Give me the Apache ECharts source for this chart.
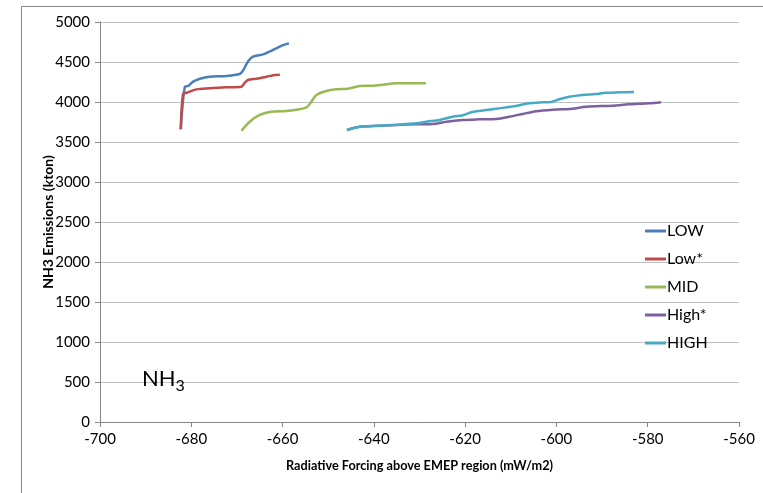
<!DOCTYPE html>
<html>
<head>
<meta charset="utf-8">
<script src="https://cdn.jsdelivr.net/npm/echarts@6/dist/echarts.min.js"></script>
<style>
  html, body { margin: 0; padding: 0; background: #fff; }
  #chart { width: 763px; height: 493px; }
</style>
</head>
<body>
<div id="chart"></div>
<script>
// NH3 emissions vs radiative forcing, one path per scenario: [forcing (mW/m2), emissions (kton)]
const seriesNames = ['LOW', 'Low*', 'MID', 'High*', 'HIGH'];
const seriesColors = ['#4A7EBB', '#BE4B48', '#98B954', '#7D60A0', '#46AAC5'];

const lowData = [
  [-682.3, 3659], [-681.4, 4191], [-680.7, 4200], [-679.6, 4254], [-678.1, 4291],
  [-676.0, 4316], [-672.3, 4325], [-669.4, 4350], [-668.7, 4391], [-667.6, 4504],
  [-666.5, 4566], [-664.3, 4596], [-662.1, 4650], [-659.9, 4712], [-658.6, 4733]
];
const lowStarData = [
  [-682.3, 3659], [-681.8, 4100], [-681.0, 4116], [-678.9, 4158], [-676.0, 4171],
  [-672.3, 4183], [-669.0, 4191], [-668.4, 4233], [-667.6, 4275], [-665.7, 4291],
  [-663.5, 4316], [-661.7, 4337], [-660.6, 4341]
];
const midData = [
  [-669.0, 3641], [-667.2, 3754], [-665.0, 3838], [-662.5, 3879], [-659.2, 3888],
  [-656.3, 3909], [-654.7, 3934], [-653.7, 4004], [-652.6, 4088], [-650.4, 4138],
  [-648.2, 4158], [-645.7, 4166], [-643.1, 4200], [-640.2, 4204], [-638.0, 4216],
  [-635.1, 4233], [-632.2, 4233], [-628.6, 4233]
];
const highStarData = [
  [-645.9, 3650], [-643.1, 3690], [-638.8, 3702], [-635.1, 3713], [-630.7, 3721],
  [-627.1, 3725], [-624.1, 3754], [-620.5, 3775], [-616.9, 3783], [-613.2, 3788],
  [-610.3, 3816], [-607.4, 3850], [-604.5, 3884], [-600.8, 3904], [-596.5, 3916],
  [-593.5, 3941], [-587.7, 3954], [-584.1, 3971], [-579.7, 3984], [-577.1, 3998]
];
const highData = [
  [-645.9, 3650], [-643.1, 3692], [-638.8, 3704], [-635.1, 3716], [-630.7, 3733],
  [-628.5, 3754], [-625.6, 3775], [-622.7, 3816], [-620.5, 3834], [-618.4, 3875],
  [-615.4, 3900], [-612.5, 3921], [-608.9, 3950], [-606.0, 3984], [-603.0, 3996],
  [-601.2, 4000], [-599.4, 4034], [-597.2, 4066], [-594.3, 4088], [-591.4, 4100],
  [-589.2, 4116], [-586.3, 4121], [-583.0, 4125]
];
const seriesData = [lowData, lowStarData, midData, highStarData, highData];

const xTitle = 'Radiative Forcing above EMEP region (mW/m2)';
const yTitle = 'NH3 Emissions (kton)';

const FONT = 'Lato, "Liberation Sans", sans-serif';

const chart = echarts.init(document.getElementById('chart'), null, { renderer: 'canvas' });

chart.setOption({
  animation: false,
  backgroundColor: '#ffffff',
  color: seriesColors,
  grid: { left: 100, right: 24, top: 22, bottom: 71, containLabel: false },
  xAxis: {
    type: 'value',
    min: -700, max: -560, interval: 20,
    name: xTitle,
    nameLocation: 'middle',
    nameGap: 37,
    nameMoveOverlap: false,
    nameTextStyle: { fontFamily: FONT, fontSize: 12.7, fontWeight: 'bold', color: '#000' },
    axisLine: { show: true, onZero: false, lineStyle: { color: '#868686', width: 1 } },
    axisTick: { show: true, length: 5, inside: false, lineStyle: { color: '#868686' } },
    axisLabel: { fontFamily: FONT, fontSize: 15, color: '#000', margin: 10 },
    splitLine: { show: false }
  },
  yAxis: {
    type: 'value',
    min: 0, max: 5000, interval: 500,
    name: yTitle,
    nameLocation: 'middle',
    nameGap: 45,
    nameMoveOverlap: false,
    nameRotate: 90,
    nameTextStyle: { fontFamily: FONT, fontSize: 14, fontWeight: 'bold', color: '#000' },
    axisLine: { show: true, lineStyle: { color: '#868686', width: 1 } },
    axisTick: { show: true, length: 5, lineStyle: { color: '#868686' } },
    axisLabel: {
      fontFamily: FONT, fontSize: 15, color: '#000', margin: 10,
      formatter: v => String(v)
    },
    splitLine: { show: true, lineStyle: { color: '#BFBFBF', width: 1 } }
  },
  legend: {
    orient: 'vertical',
    left: 640,
    top: 218,
    itemGap: 12,
    itemWidth: 21,
    itemHeight: 3,
    icon: 'rect',
    data: seriesNames,
    textStyle: { fontFamily: FONT, fontSize: 16, color: '#000', padding: [0, 0, 0, -4] }
  },
  series: seriesNames.map((name, i) => ({
    name: name,
    type: 'line',
    data: seriesData[i],
    smooth: 0.3,
    showSymbol: false,
    symbol: 'none',
    lineStyle: { width: 2.5, color: seriesColors[i] },
    itemStyle: { color: seriesColors[i] }
  })),
  graphic: [
    {
      type: 'rect',
      shape: { x: 21.5, y: 6.5, width: 800, height: 500 },
      style: { fill: 'none', stroke: '#868686', lineWidth: 1 },
      silent: true,
      z: -1
    },
    {
      type: 'text',
      left: 142,
      top: 368,
      style: {
        text: '{a|NH}{b|3}',
        rich: {
          a: { fontFamily: FONT, fontSize: 22, fill: '#000' },
          b: { fontFamily: FONT, fontSize: 16, fill: '#000', verticalAlign: 'bottom', padding: [14, 0, 0, 0] }
        }
      },
      z: 10
    }
  ]
});
</script>
</body>
</html>
